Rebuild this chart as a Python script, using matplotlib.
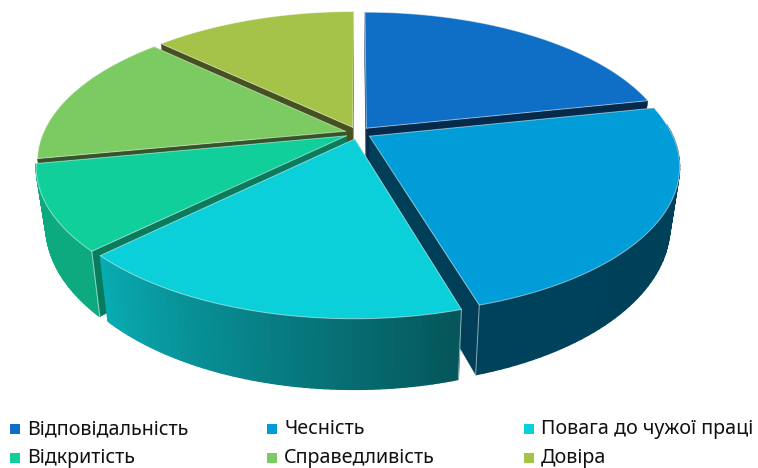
import numpy as np
import matplotlib
matplotlib.use('Agg')
import matplotlib.pyplot as plt
from matplotlib.collections import PolyCollection
from matplotlib.colors import to_rgb

# slices clockwise from 12 o'clock, shares
labels = ['Відповідальність', 'Чесність', 'Повага до чужої праці',
          'Відкритість', 'Справедливість', 'Довіра']
values = [21.7, 23.7, 17.3, 9.3, 15.0, 13.0]
colors = ['#0F6FC6', '#009DD9', '#0BD0D9', '#10CF9B', '#7CCA62', '#A5C249']
wall_shade = [0.38, 0.40, 0.60, 0.60, 0.42, 0.42]
wall_depth = [1, 1, 1, 1, 0.3, 1]
rim_slices = [1, 2, 3]
rim_lines = {1: [-1], 2: [0], 3: [0]}

# projection of the disc onto the screen (pixels)
cx, cy = 358, 133
a, b, k = 302, 141, 0.2
H = 56
explode = 0.044


def project(u, v):
    s = 1 / (1 + k * v)
    return cx + a * u * s, cy - b * v * s, s


def top_bottom(u, v):
    x, y, s = project(u, v)
    xb = cx + (x - cx) * 0.97
    yb = y + H * s
    return np.column_stack([x, y]), np.column_stack([xb, yb])


def rim_shade(deg):
    return np.interp(deg, [0, 165, 225, 360], [0.40, 0.42, 0.82, 0.82])


fig = plt.figure(figsize=(7.58, 4.68), dpi=100)
ax = fig.add_axes([0, 0, 1, 1])
ax.set_xlim(0, 758)
ax.set_ylim(468, 0)
ax.axis('off')

edges = np.concatenate([[0], np.cumsum(values)]) / np.sum(values) * 360

# painter's order, back slices first
for i in [5, 0, 4, 1, 3, 2]:
    start, end = edges[i], edges[i + 1]
    mid = np.radians((start + end) / 2)
    ou, ov = explode * np.sin(mid), explode * np.cos(mid)
    deg = np.linspace(start, end, 60)
    th = np.radians(deg)
    u = ou + np.sin(th)
    v = ov + np.cos(th)
    top, bot = top_bottom(u, v)
    atop, abot = top_bottom(np.array([ou]), np.array([ov]))
    base = np.array(to_rgb(colors[i]))

    # radial walls
    wall = base * wall_shade[i]
    for t, bo in [(top[0], bot[0]), (top[-1], bot[-1])]:
        bo = t + (bo - t) * wall_depth[i]
        ab = atop[0] + (abot[0] - atop[0]) * wall_depth[i]
        ax.fill([atop[0, 0], t[0], bo[0], ab[0]],
                [atop[0, 1], t[1], bo[1], ab[1]], color=wall, lw=0.3, zorder=1)

    # outer rim with gradient, only the part facing the viewer
    if i in rim_slices:
        quads = []
        rim_cols = []
        for j in range(len(deg) - 1):
            if np.cos(th[j]) < 0.1:
                quads.append([top[j], top[j + 1], bot[j + 1], bot[j]])
                rim_cols.append(base * rim_shade((deg[j] + deg[j + 1]) / 2))
        ax.add_collection(PolyCollection(quads, facecolors=rim_cols, edgecolors=rim_cols, linewidths=0.9, zorder=1))
        # bright edge where the rim meets the wall
        for j in rim_lines[i]:
            ax.plot([top[j, 0], bot[j, 0]], [top[j, 1], bot[j, 1]], color='white', lw=0.7, alpha=0.55, zorder=1)

    # top face
    outline = np.vstack([atop, top, atop])
    ax.fill(outline[:, 0], outline[:, 1], color=colors[i], lw=0, zorder=1)
    ax.plot(outline[:, 0], outline[:, 1], color='white', lw=0.7, alpha=0.5, zorder=1)

# legend in three columns
for i, name in enumerate(labels):
    col, row = i % 3, i // 3
    x = 11 + col * 257
    y = 429 + row * 29
    ax.scatter([x + 4], [y], marker='s', s=42, color=colors[i], linewidths=0, zorder=2)
    ax.text(x + 16, y, name, fontsize=14.2, family='Noto Sans', color='#111111',
            va='center', ha='left', zorder=2)

plt.savefig('out.png', dpi=100)
